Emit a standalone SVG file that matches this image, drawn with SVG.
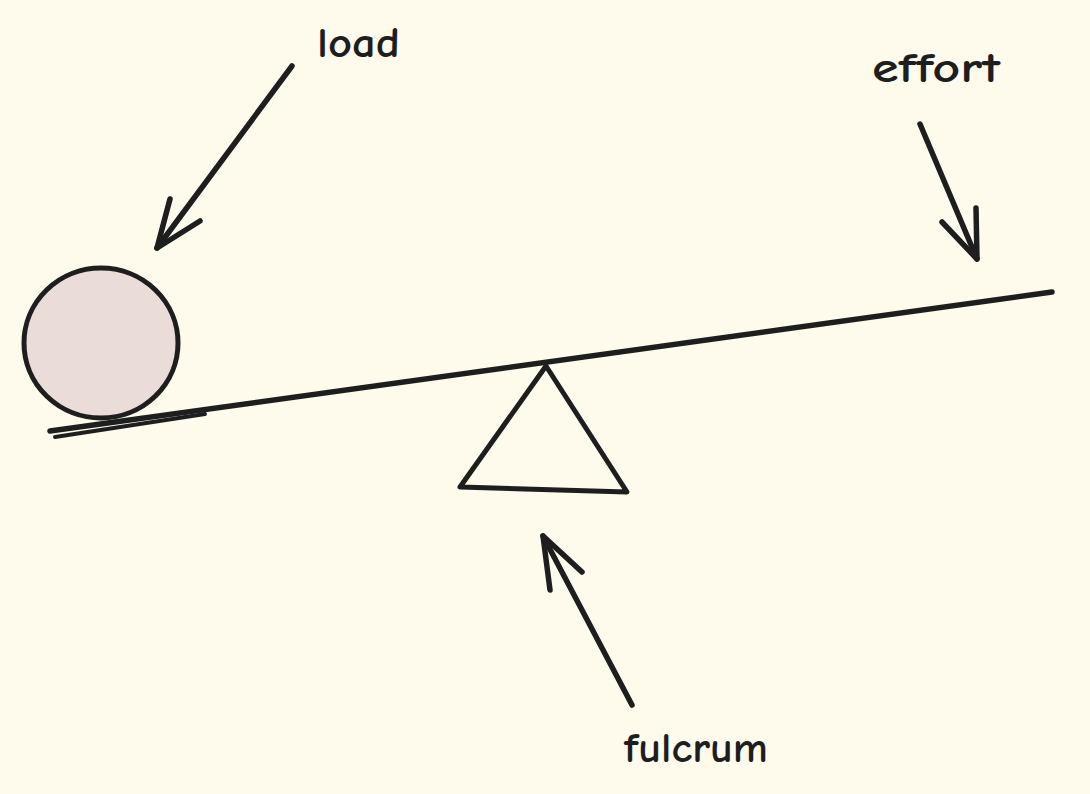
<svg xmlns="http://www.w3.org/2000/svg" width="1090" height="794" viewBox="0 0 1090 794">
<style>
.s{fill:none;stroke:#1e1e1e;stroke-linecap:round;stroke-linejoin:round}
.t{font-family:"Comic Neue","Liberation Sans",sans-serif;font-size:42px;font-weight:bold;fill:#1e1e1e}
</style>
<rect width="1090" height="794" fill="#fefbec"/>
<g id="ball">
<ellipse cx="101" cy="343" rx="77" ry="75" fill="#eaddd7" stroke="#1e1e1e" stroke-width="5"/>
</g>
<g id="beam">
<path class="s" stroke-width="5.5" d="M50 431 L1052 292"/>
<path class="s" stroke-width="4" d="M55 437 L205 414"/>
</g>
<g id="fulcrum-shape">
<path class="s" stroke-width="5" d="M546 366 L460 487 L627 492 Z"/>
</g>
<g id="connectors">
<path class="s" stroke-width="5.5" d="M292 66 L157 248"/>
<path class="s" stroke-width="5.5" d="M170 199 L157 248 L200 221"/>
<path class="s" stroke-width="5.5" d="M920 124 L977 259"/>
<path class="s" stroke-width="5.5" d="M942 222 L977 259 L976 208"/>
<path class="s" stroke-width="5.5" d="M632 705 L543 536"/>
<path class="s" stroke-width="5.5" d="M550 590 L543 536 L582 572"/>
</g>
<g id="label-load"><text class="t" x="317" y="57" textLength="83" lengthAdjust="spacingAndGlyphs">load</text></g>
<g id="label-effort"><text class="t" x="872" y="82" textLength="128" lengthAdjust="spacingAndGlyphs">effort</text></g>
<g id="label-fulcrum"><text class="t" x="624" y="762" textLength="144" lengthAdjust="spacingAndGlyphs">fulcrum</text></g>
</svg>
